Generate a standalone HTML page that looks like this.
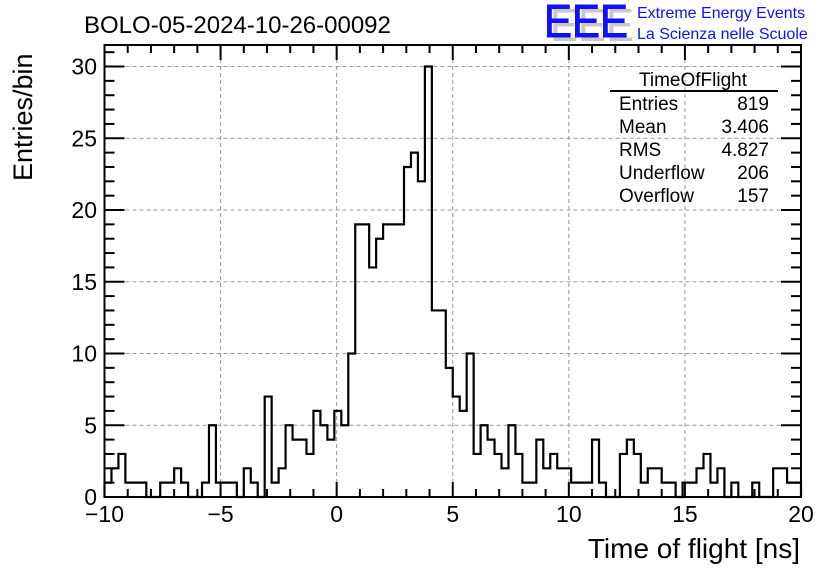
<!DOCTYPE html>
<html><head><meta charset="utf-8"><style>
html,body{margin:0;padding:0;background:#fff;}
svg{display:block;font-family:"Liberation Sans",Arial,sans-serif;}
</style></head><body>
<svg id="chart" width="836" height="572" viewBox="0 0 836 572" xmlns="http://www.w3.org/2000/svg">
<text x="84" y="33" font-size="24">BOLO-05-2024-10-26-00092</text>
<g>
<text x="550" y="41" font-size="46" fill="#c8c8c8" textLength="84" lengthAdjust="spacingAndGlyphs">EEE</text>
<text x="544" y="37" font-size="46" fill="#1010ff" stroke="#1010ff" stroke-width="1" textLength="84" lengthAdjust="spacingAndGlyphs">EEE</text>
<text x="637" y="18" font-size="16" fill="#1010ff">Extreme Energy Events</text>
<text x="637" y="39" font-size="16" fill="#1010ff">La Scienza nelle Scuole</text>
</g>
<g id="grid"></g>
<g id="axes"></g>
<path id="hist" fill="none" stroke="#000" stroke-width="2.2"/>
<rect x="104.5" y="45" width="696.5" height="452" fill="none" stroke="#000" stroke-width="2"/>
<g font-size="19">
<text x="693" y="86" text-anchor="middle">TimeOfFlight</text>
<line x1="610" y1="91" x2="778" y2="91" stroke="#000" stroke-width="2"/>
<text x="619" y="110">Entries</text><text x="769" y="110" text-anchor="end">819</text>
<text x="619" y="133">Mean</text><text x="769" y="133" text-anchor="end">3.406</text>
<text x="619" y="156">RMS</text><text x="769" y="156" text-anchor="end">4.827</text>
<text x="619" y="179">Underflow</text><text x="769" y="179" text-anchor="end">206</text>
<text x="619" y="202">Overflow</text><text x="769" y="202" text-anchor="end">157</text>
</g>
<text x="800" y="558" font-size="28" text-anchor="end">Time of flight [ns]</text>
<text transform="translate(32,181) rotate(-90)" font-size="27">Entries/bin</text>
</svg>
<script>
const binCounts = [1,2,3,1,1,1,0,0,1,1,2,1,0,0,1,5,1,1,1,0,2,1,0,7,1,2,5,4,4,3,6,5,4,6,5,10,19,19,16,18,19,19,19,23,24,22,30,13,13,9,7,6,10,3,5,4,3,2,5,3,1,1,4,2,3,2,2,1,1,1,4,1,0,0,3,4,3,1,2,2,1,1,0,1,1,2,3,1,2,0,1,0,0,1,0,0,2,2,1,1];
const xRange = [-10, 20];
const yRange = [0, 31.5];
const xTicks = [-10,-5,0,5,10,15,20];
const xTickLabels = ["\u221210","\u22125","0","5","10","15","20"];
const yTicks = [0,5,10,15,20,25,30];
const yTickLabels = ["0","5","10","15","20","25","30"];

const X0=104.5, X1=801, Y0=497, Y1=45;
function xs(v){return X0+(v-xRange[0])/(xRange[1]-xRange[0])*(X1-X0);}
function ys(v){return Y0-(v-yRange[0])/(yRange[1]-yRange[0])*(Y0-Y1);}
const NS='http://www.w3.org/2000/svg';
function mk(tag,attrs,parent){const e=document.createElementNS(NS,tag);for(const k in attrs)e.setAttribute(k,attrs[k]);parent.appendChild(e);return e;}
const grid=document.getElementById('grid'), axes=document.getElementById('axes');
xTicks.forEach((t,i)=>{
  const x=xs(t);
  if(i>0&&i<xTicks.length-1){const g=mk('line',{x1:x,y1:Y1,x2:x,y2:Y0,stroke:'#999','stroke-dasharray':'4,3','stroke-width':1},grid);
  
  }
  mk('line',{x1:x,y1:Y0,x2:x,y2:Y0-15,stroke:'#000','stroke-width':2},axes);
  mk('line',{x1:x,y1:Y1,x2:x,y2:Y1+15,stroke:'#000','stroke-width':2},axes);
  const l=mk('text',{x:x,y:522,'font-size':23,'text-anchor':'middle'},axes);l.textContent=xTickLabels[i];
  
  
});
for(let v=xRange[0];v<=xRange[1];v+=1){ if(v%5===0) continue; const x=xs(v);
  mk('line',{x1:x,y1:Y0,x2:x,y2:Y0-8,stroke:'#000','stroke-width':2},axes);
  mk('line',{x1:x,y1:Y1,x2:x,y2:Y1+8,stroke:'#000','stroke-width':2},axes);}
yTicks.forEach((t,i)=>{
  const y=ys(t);
  if(i>0){const g=mk('line',{x1:X0,y1:y,x2:X1,y2:y,stroke:'#999','stroke-dasharray':'4,3','stroke-width':1},grid);
  
  }
  mk('line',{x1:X0,y1:y,x2:X0+20,y2:y,stroke:'#000','stroke-width':2},axes);
  mk('line',{x1:X1,y1:y,x2:X1-20,y2:y,stroke:'#000','stroke-width':2},axes);
  const l=mk('text',{x:97,y:y+8,'font-size':23,'text-anchor':'end'},axes);l.textContent=yTickLabels[i];
  
  
});
for(let v=1;v<=31;v++){ if(v%5===0) continue; const y=ys(v);
  mk('line',{x1:X0,y1:y,x2:X0+10,y2:y,stroke:'#000','stroke-width':2},axes);
  mk('line',{x1:X1,y1:y,x2:X1-10,y2:y,stroke:'#000','stroke-width':2},axes);}
const n=binCounts.length, w=(xRange[1]-xRange[0])/n;
let d='M'+xs(xRange[0])+','+ys(0);
binCounts.forEach((c,i)=>{const a=xs(xRange[0]+i*w), b=xs(xRange[0]+(i+1)*w);
  d+=' L'+a+','+ys(c)+' L'+b+','+ys(c);});
d+=' L'+xs(xRange[1])+','+ys(0);
document.getElementById('hist').setAttribute('d',d);
</script>
</body></html>
